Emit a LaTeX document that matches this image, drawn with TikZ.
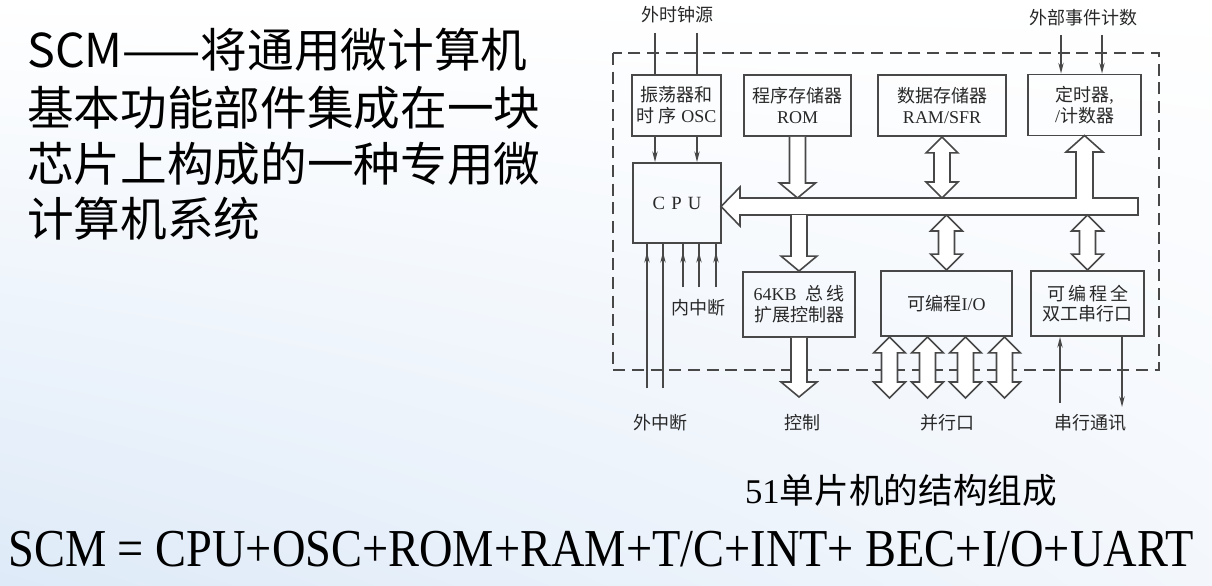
\documentclass[tikz,border=0pt]{standalone}
\usepackage{fontspec}
\usepackage{graphicx}
\setmainfont{Liberation Serif}
\newfontfamily\cjk{Noto Sans CJK SC}
\usetikzlibrary{arrows.meta,calc,shadings}
\definecolor{ln}{RGB}{72,72,72}
\definecolor{tx}{RGB}{40,40,40}
\definecolor{bgblue}{RGB}{222,234,248}
\definecolor{bgblue2}{RGB}{243,247,252}
\tikzset{
  box/.style={draw=ln, line width=1.4pt, inner sep=0pt, align=center, text=tx,
              font=\fontsize{13.5}{15.5}\selectfont},
  blk/.style={draw=ln, line width=1.2pt, fill=white, line join=miter},
  thinln/.style={draw=ln, line width=1.1pt},
  tipped/.style={-{Stealth[length=8pt,width=4pt]}},
  dashbox/.style={draw=ln, line width=1.4pt, dash pattern=on 9pt off 5pt},
  lbl/.style={text=tx, inner sep=0pt, font=\cjk\fontsize{13.5}{15.5}\selectfont},
}
% vertical block arrows; offsets in pt
\newcommand\downblk[2]{\draw[blk] let \p1=(#1), \p2=(#2) in
  (\x1-6pt,\y1) -- (\x1-6pt,\y2+11.25pt) -- (\x1-13.5pt,\y2+11.25pt) -- (\x1,\y2)
  -- (\x1+13.5pt,\y2+11.25pt) -- (\x1+6pt,\y2+11.25pt) -- (\x1+6pt,\y1);}
\newcommand\dblblk[2]{\draw[blk] let \p1=(#1), \p2=(#2) in
  (\x1,\y1) -- (\x1+12pt,\y1-12pt) -- (\x1+6pt,\y1-12pt) -- (\x1+6pt,\y2+12pt)
  -- (\x1+12pt,\y2+12pt) -- (\x1,\y2) -- (\x1-12pt,\y2+12pt) -- (\x1-6pt,\y2+12pt)
  -- (\x1-6pt,\y1-12pt) -- (\x1-12pt,\y1-12pt) -- cycle;}
\begin{document}
\begin{tikzpicture}[x=0.75pt,y=-0.75pt]
\useasboundingbox (0,0) rectangle (1212,585);
\shade[upper left=white, upper right=white, lower left=bgblue, lower right=bgblue2]
  (0,0) rectangle (1212,585);

% left text
\begin{scope}[every node/.style={anchor=west, inner sep=0pt, font=\cjk\fontsize{35}{35}\selectfont}]
\node (t1) at (27,50)  {SCM——将通用微计算机};
\node (t2) at (27,108) {基本功能部件集成在一块};
\node (t3) at (27,164) {芯片上构成的一种专用微};
\node (t4) at (27,219) {计算机系统};
\end{scope}

% dashed chip outline
\draw[dashbox] (613,53) rectangle (1159,370);

% boxes
\node[box, minimum width=66.75pt, minimum height=45.75pt] (osc) at (676.5,105.5)
  {{\cjk 振荡器和}\\{\cjk 时 序} OSC};
\node[box, minimum width=80.25pt, minimum height=45.75pt] (rom) at (797.5,105.5)
  {{\cjk 程序存储器}\\ROM};
\node[box, minimum width=96pt, minimum height=45.75pt] (ram) at (942,105.5)
  {{\cjk 数据存储器}\\RAM/SFR};
\node[box, minimum width=84.75pt, minimum height=45.75pt] (timer) at (1084.5,105)
  {{\cjk 定时器},\\/{\cjk 计数器}};
\node[box, minimum width=66pt, minimum height=60pt, font=\fontsize{14}{16}\selectfont] (cpu) at (677,203)
  {C\,\,P\,\,U};
\node[box, minimum width=84pt, minimum height=48.75pt] (bec) at (799,304.5)
  {64KB\ \ {\cjk 总\,线}\\{\cjk 扩展控制器}};
\node[box, minimum width=98.25pt, minimum height=48.75pt] (io) at (946.5,303.5)
  {{\cjk 可编程}I/O};
\node[box, minimum width=84.75pt, minimum height=48.75pt] (uart) at (1087.5,303.5)
  {{\cjk 可\,编\,程\,全}\\{\cjk 双工串行口}};

% labels
\node[lbl] (lclk) at (677,15) {外时钟源};
\node[lbl] (levt) at (1083,18) {外部事件计数};
\node[lbl] (lint) at (698,308) {内中断};
\node[lbl] (lext) at (660,423) {外中断};
\node[lbl] (lctl) at (802,423) {控制};
\node[lbl] (lpar) at (947,423) {并行口};
\node[lbl] (lser) at (1090,423) {串行通讯};

% helper coordinates
\coordinate (bT) at (0,198);
\coordinate (bB) at (0,215);
\coordinate (portB) at (0,398);
\coordinate (ctlB) at (0,397);

% bus
\draw[blk] (721,206.5) -- (740,187) -- (740,198) -- (1076,198) -- (1076,152) -- (1066,152)
  -- (1084.5,135.5) -- (1103,152) -- (1093,152) -- (1093,198) -- (1138,198) -- (1138,215)
  -- (740,215) -- (740,226) -- cycle;

% block arrows
\downblk{rom.south}{rom.south |- bT}
\downblk{bec.north |- bB}{bec.north}
\downblk{bec.south}{bec.south |- ctlB}
\dblblk{ram.south}{ram.south |- bT}
\dblblk{io.north |- bB}{io.north}
\dblblk{uart.north |- bB}{uart.north}
\foreach \dx/\nm in {-57/p1,-19/p2,19/p3,58/p4}{
  \coordinate (\nm) at ($(io.south)+(\dx,0)$);
  \dblblk{\nm}{\nm |- portB}
}

% clock inputs
\coordinate (clkA) at (655,33);
\coordinate (clkB) at (697,33);
\draw[thinln] (clkA) -- (clkA |- osc.north);
\draw[thinln] (clkB) -- (clkB |- osc.north);
\draw[thinln,tipped] (clkA |- osc.south) -- (clkA |- cpu.north);
\draw[thinln,tipped] (clkB |- osc.south) -- (clkB |- cpu.north);

% external events
\coordinate (evA) at (1061,35);
\coordinate (evB) at (1102,35);
\draw[thinln,tipped] (evA) -- (evA |- timer.north);
\draw[thinln,tipped] (evB) -- (evB |- timer.north);

% interrupts
\foreach \xx/\nm in {647/e1,663/e2}{
  \coordinate (\nm) at (\xx,388);
  \draw[thinln] (\nm) -- (\nm |- cpu.south);
  \draw[thinln,tipped] (\nm) -- ($(\nm |- cpu.south)+(0,8)$);
}
\foreach \xx/\nm in {683/i1,699/i2,716/i3}{
  \coordinate (\nm) at (\xx,287);
  \draw[thinln] (\nm) -- (\nm |- cpu.south);
  \draw[thinln,tipped] (\nm) -- ($(\nm |- cpu.south)+(0,8)$);
}

% serial
\coordinate (sin) at (1060,403);
\coordinate (sout) at (1122,407);
\draw[thinln,tipped] (sin) -- (sin |- uart.south);
\draw[thinln,tipped] (sout |- uart.south) -- (sout);

% captions
\node[inner sep=0pt, font=\fontsize{26}{26}\selectfont] (cap) at (901,490) {51{\cjk 单片机的结构组成}};
\node[inner sep=0pt, font=\fontsize{40}{40}\selectfont] (formula) at (601,549)
  {\scalebox{0.87}[1]{SCM = CPU+OSC+ROM+RAM+T/C+INT+ BEC+I/O+UART}};
\end{tikzpicture}
\end{document}
